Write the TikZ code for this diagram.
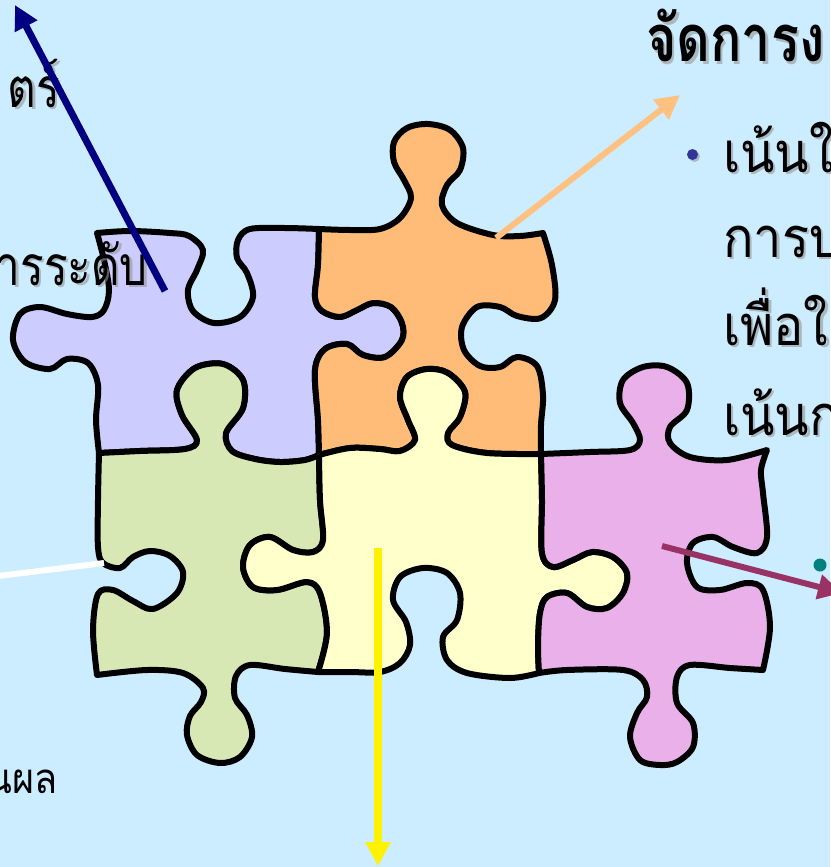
\documentclass[tikz,border=0pt]{standalone}
\usepackage{fontspec}
\newfontfamily\thaifont[Script=Thai, FakeStretch=0.9]{Loma}
\newfontfamily\thaiside[Script=Thai, FakeStretch=0.8]{Loma}
\newfontfamily\thaihead[Script=Thai, FakeStretch=0.8]{Loma}
\usetikzlibrary{arrows.meta}
\definecolor{bgblue}{RGB}{204,236,255}
\definecolor{lavender}{RGB}{204,204,255}
\definecolor{apricot}{RGB}{255,188,120}
\definecolor{sage}{RGB}{216,232,180}
\definecolor{cream}{RGB}{255,255,204}
\definecolor{orchid}{RGB}{234,176,234}
\definecolor{navyarrow}{RGB}{0,0,128}
\definecolor{peach}{RGB}{255,192,128}
\definecolor{plum}{RGB}{153,51,102}
\definecolor{tealdot}{RGB}{0,128,128}
\definecolor{bulletblue}{RGB}{51,51,153}
\definecolor{shadowgray}{RGB}{150,150,150}
\begin{document}
\begin{tikzpicture}[x=1pt,y=-1pt,
  piece/.style={draw=black, line width=6pt, line join=round, line cap=round},
  curvy/.style={smooth, tension=0.55},
  bodytxt/.style={font={\thaifont\fontsize{56pt}{62pt}\selectfont}, inner sep=0pt, text=black},
  sidetxt/.style={font={\thaiside\fontsize{55pt}{62pt}\selectfont}, inner sep=0pt, text=black},
  headtxt/.style={font={\thaihead\bfseries\fontsize{65pt}{72pt}\selectfont}, inner sep=0pt, text=black},
  smalltxt/.style={font={\thaifont\fontsize{42pt}{48pt}\selectfont}, inner sep=0pt, text=black},
  shadowed/.style={text=shadowgray, opacity=0.6},
  pointer/.style={line cap=butt, -{Triangle[length=24pt,width=24pt]}}]

% page and background
\useasboundingbox (0,0) rectangle (830,867);
\fill[bgblue] (0,0) rectangle (830,867);

% lavender piece (top left)
\filldraw[piece, fill=lavender]
  plot[curvy] coordinates {(97,233) (130,231) (170,233) (189,236) (203,250) (197,270) (188,290) (193,311) (214,323) (240,317) (253,297) (247,273) (237,258) (238,240) (250,229) (285,228) (319,229)}
  -- plot[curvy] coordinates {(319,229) (318,265) (315,297) (322,311) (340,317) (357,310) (373,303) (391,307) (402,323) (402,340) (385,357) (363,355) (347,344) (325,349) (315,370) (318,420) (319,455)}
  -- plot[curvy] coordinates {(319,455) (305,460) (280,462) (255,459) (232,451) (226,433) (243,408) (243,380) (223,364) (195,368) (177,390) (182,415) (197,440) (185,449) (140,451) (99,453)}
  -- plot[curvy] coordinates {(99,453) (96,420) (98,385) (88,363) (67,359) (50,369) (25,362) (13,340) (20,314) (40,307) (67,314) (92,317) (104,310) (109,290) (104,260) (97,233)}
  -- cycle;

% apricot piece (top middle)
\filldraw[piece, fill=apricot]
  plot[curvy] coordinates {(319,229) (350,230) (380,229) (400,218) (411,198) (404,180) (394,162) (394,142) (407,128) (428,124) (450,130) (463,148) (460,170) (447,185) (442,205) (457,223) (493,235) (520,236) (543,233)}
  -- plot[curvy] coordinates {(543,233) (552,265) (555,300) (541,318) (517,316) (500,307) (477,307) (462,327) (464,350) (480,366) (500,367) (517,357) (537,366) (543,395) (541,425) (541,454)}
  -- plot[curvy] coordinates {(541,454) (487,453) (452,445) (448,433) (460,417) (465,392) (448,373) (427,369) (407,377) (400,397) (408,420) (415,440) (400,451) (380,449) (350,448) (319,455)}
  -- plot[curvy] coordinates {(319,455) (318,420) (315,370) (325,349) (347,344) (363,355) (385,357) (402,340) (402,323) (391,307) (373,303) (357,310) (340,317) (322,311) (315,297) (318,265) (319,229)}
  -- cycle;

% sage piece (bottom left)
\filldraw[piece, fill=sage]
  plot[curvy] coordinates {(99,453) (140,451) (185,449) (197,440) (182,415) (177,390) (195,368) (223,364) (243,380) (243,408) (226,433) (232,451) (255,459) (280,462) (305,460) (319,455)}
  -- plot[curvy] coordinates {(319,455) (320,500) (323,540) (313,552) (293,550) (270,537) (250,545) (243,567) (253,587) (277,590) (307,582) (320,593) (327,633) (318,672)}
  -- plot[curvy] coordinates {(318,672) (285,669) (250,665) (236,676) (235,698) (247,715) (252,737) (240,757) (220,763) (197,755) (187,735) (190,716) (201,702) (203,688) (183,673) (147,670) (97,675)}
  -- plot[curvy] coordinates {(97,675) (93,630) (98,594) (113,590) (133,601) (153,609) (177,593) (183,572) (170,556) (150,551) (133,557) (120,568) (103,563) (98,547) (98,500) (99,453)}
  -- cycle;

% cream piece (bottom middle)
\filldraw[piece, fill=cream]
  plot[curvy] coordinates {(319,455) (350,448) (380,449) (400,451) (415,440) (408,420) (400,397) (407,377) (427,369) (448,373) (465,392) (460,417) (448,433) (452,445) (487,453) (541,454)}
  -- plot[curvy] coordinates {(541,454) (542,500) (542,553) (553,567) (573,560) (592,552) (613,557) (627,573) (623,593) (607,608) (587,607) (567,593) (547,597) (540,613) (538,645) (539,673)}
  -- plot[curvy] coordinates {(539,673) (510,678) (467,673) (447,660) (443,637) (457,620) (460,593) (447,573) (423,568) (400,577) (393,600) (406,622) (410,645) (400,663) (380,672) (350,672) (318,672)}
  -- plot[curvy] coordinates {(318,672) (327,633) (320,593) (307,582) (277,590) (253,587) (243,567) (250,545) (270,537) (293,550) (313,552) (323,540) (320,500) (319,455)}
  -- cycle;

% orchid piece (right)
\filldraw[piece, fill=orchid]
  plot[curvy] coordinates {(541,454) (590,452) (630,450) (640,440) (633,423) (620,403) (623,380) (643,367) (667,367) (687,383) (687,410) (670,427) (670,443) (690,457) (727,460) (767,450)}
  -- plot[curvy] coordinates {(767,450) (761,470) (763,493) (767,537) (757,553) (733,547) (713,537) (693,543) (687,563) (697,587) (720,590) (747,583) (763,590) (770,627) (763,670)}
  -- plot[curvy] coordinates {(763,670) (730,668) (690,665) (677,677) (677,703) (693,723) (693,747) (677,762) (660,765) (640,760) (630,737) (637,713) (647,697) (643,680) (623,670) (567,670) (539,673)}
  -- plot[curvy] coordinates {(539,673) (538,645) (540,613) (547,597) (567,593) (587,607) (607,608) (623,593) (627,573) (613,557) (592,552) (573,560) (553,567) (542,553) (542,500) (541,454)}
  -- cycle;

% labels on the left (with soft drop shadow)
\node[sidetxt, shadowed, anchor=base east] (sciS) at (62.5,109.5) {ตร์};
\node[sidetxt, anchor=base east] (sci) at (60,107) {ตร์};
\node[sidetxt, shadowed, anchor=base east] (levelS) at (150.5,287.5) {ารระดับ};
\node[sidetxt, anchor=base east] (level) at (148,285) {ารระดับ};
\node[smalltxt, anchor=base east] (result) at (58,793) {นผล};

% heading and bullet lines on the right
\node[headtxt, shadowed, anchor=base west] (headS) at (648.5,64.5) {จัดการง};
\node[headtxt, anchor=base west] (head) at (646,62) {จัดการง};
\fill[shadowgray, opacity=0.6] (694.5,156.5) circle (5.5pt);
\fill[bulletblue] (692.5,154.5) circle (5.5pt);
\node[bodytxt, shadowed, anchor=base west] (l1S) at (725.5,174.5) {เน้นใ};
\node[bodytxt, anchor=base west] (l1) at (723,172) {เน้นใ};
\node[bodytxt, shadowed, anchor=base west] (l2S) at (725.5,259.5) {การบ};
\node[bodytxt, anchor=base west] (l2) at (723,257) {การบ};
\node[bodytxt, shadowed, anchor=base west] (l3S) at (725.5,347.5) {เพื่อใ};
\node[bodytxt, anchor=base west] (l3) at (723,345) {เพื่อใ};
\node[bodytxt, shadowed, anchor=base west] (l4S) at (725.5,437.5) {เน้นก};
\node[bodytxt, anchor=base west] (l4) at (723,435) {เน้นก};
\fill[tealdot] (820,565) circle (6.5pt);

% connector end points
\coordinate (navyFrom) at (165,291);
\coordinate (navyTo) at (15,5);
\coordinate (peachFrom) at (496,238);
\coordinate (peachTo) at (680,95);
\coordinate (whiteFrom) at (104,563);
\coordinate (whiteTo) at (-10,577);
\coordinate (yellowFrom) at (378,548);
\coordinate (yellowTo) at (378,866);
\coordinate (plumFrom) at (662,546);
\coordinate (plumTo) at (842,593);

% connectors
\draw[pointer, navyarrow, line width=7pt] (navyFrom) -- (navyTo);
\draw[pointer, peach, line width=6pt] (peachFrom) -- (peachTo);
\draw[white, line width=6pt, line cap=butt] (whiteFrom) -- (whiteTo);
\draw[pointer, yellow, line width=8pt] (yellowFrom) -- (yellowTo);
\draw[pointer, plum, line width=6pt] (plumFrom) -- (plumTo);
\end{tikzpicture}
\end{document}
